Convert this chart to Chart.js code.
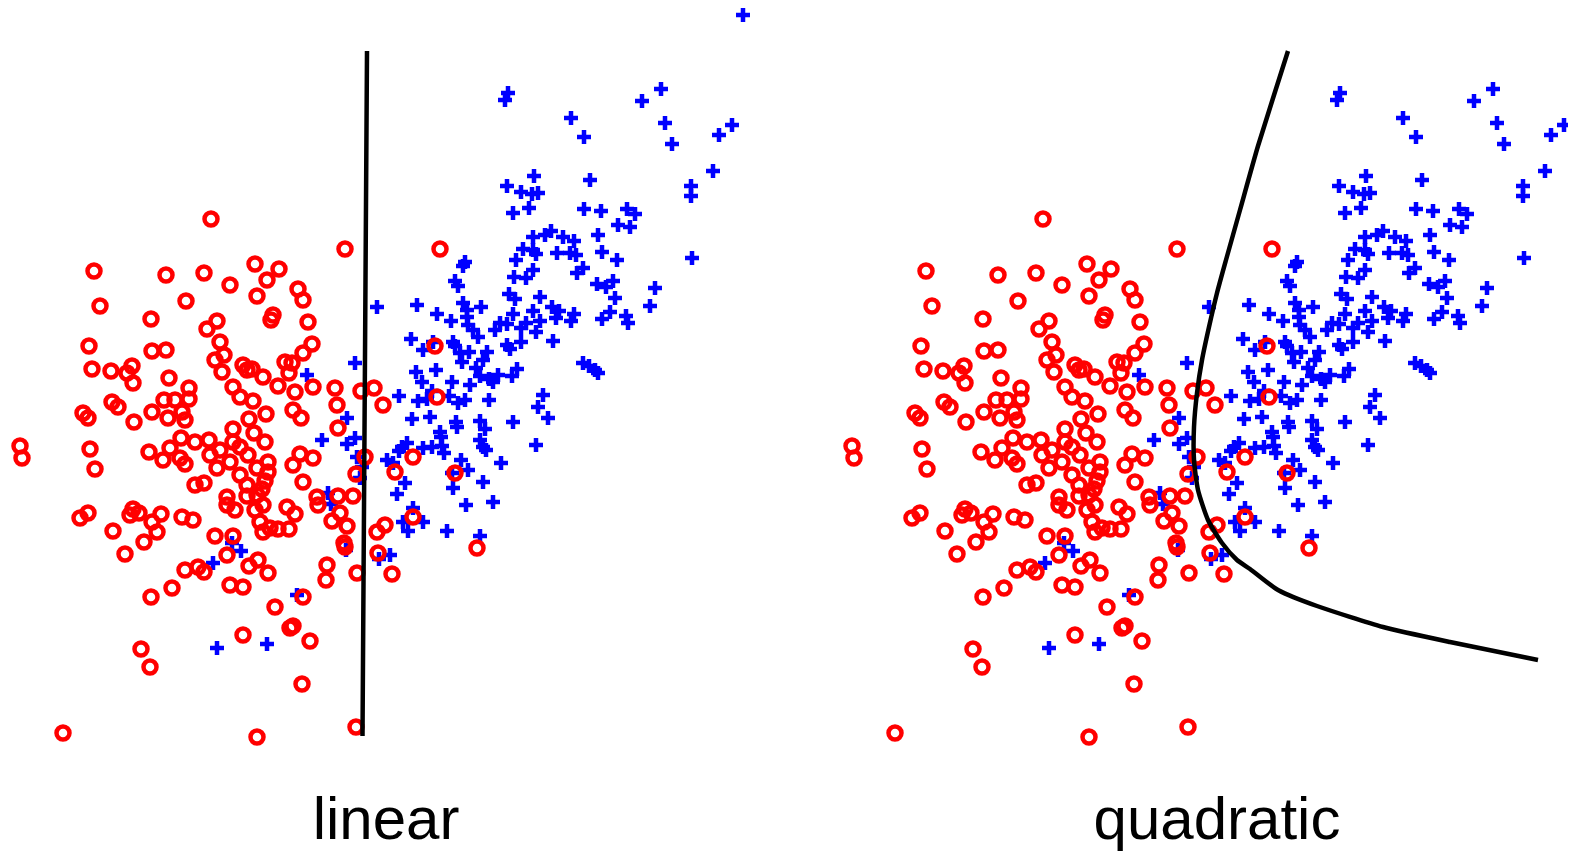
<!DOCTYPE html>
<html>
<head>
<meta charset="utf-8">
<script src="https://cdn.jsdelivr.net/npm/chart.js@4.4.1/dist/chart.umd.min.js"></script>
<style>
    html, body { margin: 0; padding: 0; background: #fff; overflow: hidden; }
    #wrap { position: relative; width: 1579px; height: 851px; }
    canvas { position: absolute; top: 0; }
    .label {
        position: absolute;
        top: 789px;
        font-family: "Liberation Sans", Arial, sans-serif;
        font-size: 60px;
        line-height: 60px;
        color: #000;
        white-space: nowrap;
        transform: translateX(-50%);
    }
</style>
</head>
<body>
<div id="wrap">
    <canvas id="linearChart" width="820" height="760" style="left:0px"></canvas>
    <canvas id="quadChart" width="736" height="760" style="left:832px"></canvas>
    <div class="label" id="label0" style="left:386px"></div>
    <div class="label" id="label1" style="left:1217px"></div>
</div>
<script>
const panelTitles = ['linear', 'quadratic'];

// class 0 (red circles), [x1, x2]
const redPoints = [
    [2.11,5.41],
    [0.94,4.89],[1.66,4.85],[2.04,4.87],[2.30,4.75],[1.00,4.54],[1.86,4.59],[1.51,4.41],[2.17,4.39],[2.07,4.31],
    [0.89,4.14],[1.52,4.09],[1.66,4.10],[2.20,4.18],[0.92,3.91],[1.11,3.89],[1.32,3.94],[1.27,3.87],[1.33,3.77],
    [1.69,3.82],[2.15,4.00],[2.24,4.05],[2.22,3.88],[2.43,3.95],[2.47,3.90],[2.33,3.73],[2.40,3.63],[1.89,3.72],
    [1.89,3.61],[1.64,3.60],[1.75,3.60],[1.12,3.58],[1.18,3.53],[0.83,3.47],[0.88,3.42],[1.34,3.38],[1.52,3.48],
    [1.68,3.42],[1.82,3.48],[1.85,3.40],[2.49,3.41],[2.33,3.31],[2.54,3.27],[0.20,3.14],[0.22,3.02],[0.90,3.11],
    [0.95,2.91],[1.49,3.08],[1.63,3.00],[1.70,3.12],[1.81,3.22],[1.95,3.18],[2.09,3.20],[1.80,3.02],[1.85,2.96],
    [2.10,3.05],[2.20,3.10],[2.17,2.92],[2.30,2.98],[2.33,3.18],[2.40,3.13],[2.48,3.05],[2.57,2.92],[1.95,2.75],
    [2.04,2.77],[2.40,2.85],[2.47,2.75],[2.68,2.88],[2.65,2.79],[2.62,2.71],
    [3.45,5.11],[4.40,5.11],[2.55,4.96],[2.79,4.91],[2.67,4.80],[2.57,4.64],[2.98,4.71],[3.03,4.60],[2.73,4.45],
    [2.71,4.40],[3.08,4.38],[3.12,4.16],[3.03,4.07],[2.85,3.98],[2.92,3.97],[2.89,3.87],[2.52,3.91],[2.63,3.83],
    [2.78,3.74],[2.95,3.68],[3.13,3.73],[3.35,3.72],[3.61,3.69],[3.74,3.72],[3.83,3.55],[3.37,3.55],[2.53,3.59],
    [2.66,3.46],[2.93,3.50],[3.01,3.42],[3.38,3.32],[2.65,3.18],[3.00,3.06],[3.13,3.02],[2.93,2.95],[2.68,2.98],
    [3.65,3.03],[3.56,2.86],[3.03,2.78],[4.35,4.14],[4.37,3.63],[4.13,3.03],[3.95,2.88],[4.55,2.87],
    [0.80,2.42],[0.88,2.47],[1.13,2.29],[1.30,2.45],[1.33,2.51],[1.39,2.47],[1.52,2.38],[1.61,2.46],[1.57,2.28],
    [1.44,2.18],[1.25,2.06],[1.82,2.43],[1.93,2.40],[2.27,2.63],[2.27,2.55],[2.35,2.50],[2.47,2.64],[2.15,2.24],
    [2.33,2.24],[2.27,2.05],[2.49,1.94],[1.85,1.90],[1.98,1.93],[2.04,1.88],[1.72,1.72],[1.51,1.63],[2.30,1.75],
    [2.43,1.73],[2.43,1.25],[1.41,1.11],[1.50,0.93],[0.63,0.27],[2.57,0.23],
    [2.57,2.65],[2.63,2.55],[2.55,2.50],[2.60,2.38],[2.63,2.28],[2.70,2.32],[2.78,2.31],[2.89,2.31],[2.87,2.53],
    [2.95,2.46],[3.17,2.63],[3.18,2.55],[3.38,2.64],[3.53,2.64],[3.40,2.47],[3.32,2.39],[3.47,2.34],[3.44,2.17],
    [3.45,2.13],[2.58,2.00],[2.68,1.87],[3.27,1.95],[3.26,1.80],[3.57,1.87],[3.03,1.63],[2.75,1.53],[2.90,1.32],
    [2.93,1.34],[3.10,1.19],[3.02,0.76],[3.56,0.33],[3.77,2.28],[3.85,2.35],[3.78,2.07],[3.92,1.86],[4.13,2.43],
    [4.77,2.12]
];

// class 1 (blue crosses), [x1, x2]
const bluePoints = [
    [7.43,7.45],
    [5.08,6.67],[5.05,6.60],[6.61,6.71],[6.42,6.59],[5.71,6.42],[5.84,6.23],[6.65,6.37],[6.72,6.16],[7.32,6.35],
    [7.19,6.25],[7.13,5.89],[6.91,5.74],[6.91,5.64],[5.34,5.84],[5.07,5.74],[5.21,5.68],[5.32,5.66],[5.38,5.67],
    [5.29,5.52],[5.13,5.47],[5.90,5.80],[5.84,5.51],[6.01,5.49],[6.27,5.51],[6.35,5.46],[6.18,5.35],[6.30,5.33],
    [5.98,5.25],[5.51,5.29],[5.45,5.25],[5.33,5.23],[5.63,5.23],[5.74,5.19],
    [5.23,5.11],[5.33,5.10],[5.36,5.06],[5.57,5.07],[5.70,5.07],[5.76,5.05],[6.02,5.08],[6.17,5.00],[6.92,5.02],
    [5.16,5.00],[5.33,4.90],[5.26,4.82],[5.14,4.83],[5.83,4.92],[5.77,4.87],[5.97,4.76],[6.06,4.73],[6.13,4.79],
    [6.55,4.72],[6.50,4.54],[6.15,4.62],[5.09,4.66],[5.15,4.61],[5.40,4.63],[5.52,4.53],[5.59,4.49],[5.56,4.42],
    [5.74,4.46],[5.71,4.39],[5.33,4.49],[5.13,4.46],[5.07,4.36],[5.26,4.37],[5.40,4.39],[5.21,4.32],[5.36,4.28],
    [5.53,4.19],[5.21,4.18],[6.02,4.41],[6.10,4.48],[6.26,4.44],[6.28,4.37],[5.07,4.15],[5.10,4.11],[5.83,3.97],
    [5.89,3.94],[5.98,3.87],[5.95,3.90],[5.17,3.91],[5.12,3.84],[5.43,3.65],[5.38,3.53],[5.48,3.42],[5.13,3.38],
    [5.36,3.15],
    [4.65,4.98],[4.63,4.94],[4.55,4.79],[4.58,4.74],[3.77,4.53],[4.17,4.55],[4.37,4.46],[4.51,4.39],[4.63,4.57],
    [4.67,4.50],[4.67,4.43],[4.81,4.53],[4.68,4.35],[4.73,4.30],[4.78,4.23],[4.95,4.30],[5.00,4.37],[4.11,4.21],
    [4.23,4.10],[4.33,4.18],[4.53,4.18],[4.55,4.14],[4.60,4.07],[4.69,4.08],[4.87,4.08],[4.83,4.00],[4.62,3.98],
    [3.55,3.97],[3.07,3.85],[4.16,3.88],[4.36,3.90],[4.76,3.92],[4.80,3.84],[4.89,3.81],[4.98,3.85],[4.93,3.78],
    [4.22,3.78],[4.52,3.78],[4.70,3.75],[3.99,3.64],[4.32,3.69],[4.49,3.64],[4.18,3.59],[4.27,3.61],[4.58,3.57],
    [4.65,3.60],[4.89,3.60],[4.30,3.43],[4.12,3.41],[4.56,3.38],[4.57,3.33],[4.80,3.39],[4.85,3.31],[4.40,3.28],
    [4.41,3.23],[3.47,3.42],[3.22,3.20],[3.47,3.16],[3.55,3.22],[4.07,3.17],[4.02,3.13],[3.99,3.09],[4.23,3.12],
    [4.32,3.13],[4.42,3.14],[4.44,3.07],[4.80,3.20],[4.83,3.13],[4.86,3.10],[3.87,3.00],[3.93,2.97],[4.61,3.00],
    [4.68,2.90],[5.01,2.97],[3.57,3.03],[3.62,2.93],[3.60,2.82],[4.52,2.87],[4.05,2.77],[4.83,2.78],[3.97,2.66],
    [4.53,2.72],[3.28,2.67],
    [2.32,2.17],[2.41,2.09],[2.13,1.97],[2.17,1.12],
    [3.31,2.56],[3.46,2.10],[2.97,1.65],[2.67,1.16],[4.13,2.52],[4.03,2.38],[4.08,2.29],[4.23,2.38],[4.47,2.29],
    [4.66,2.55],[4.93,2.58],[4.80,2.24],[3.90,2.05],[3.79,2.01]
];

// decision boundaries
const linearBoundary = [[3.67,7.09],[3.625,0.24]];
const quadraticBoundary = [
    [4.56,7.09],[4.26,6.14],[4.08,5.50],[3.94,5.00],[3.85,4.67],[3.77,4.33],[3.70,4.00],[3.65,3.67],
    [3.62,3.33],[3.62,3.00],[3.66,2.70],[3.76,2.40],[3.90,2.17],[4.05,2.00],[4.18,1.91],[4.46,1.70],
    [4.85,1.54],[5.51,1.33],[6.18,1.18],[7.06,1.00]
];

const toXY = arr => arr.map(p => ({ x: p[0], y: p[1] }));

function drawPanel(canvasId, xMax, boundary) {
    const ctx = document.getElementById(canvasId).getContext('2d');
    new Chart(ctx, {
        type: 'scatter',
        data: {
            datasets: [
                {
                    label: 'boundary',
                    data: toXY(boundary),
                    showLine: true,
                    borderColor: '#000000',
                    borderWidth: 4.5,
                    pointRadius: 0,
                    tension: 0.2,
                    borderJoinStyle: 'round',
                    fill: false,
                    clip: 0
                },
                {
                    label: 'class 0',
                    data: toXY(redPoints),
                    pointStyle: 'circle',
                    pointRadius: 6.5,
                    pointBorderWidth: 4.5,
                    pointBorderColor: '#ff0000',
                    pointBackgroundColor: 'rgba(0,0,0,0)',
                    borderColor: '#ff0000',
                    clip: 0
                },
                {
                    label: 'class 1',
                    data: toXY(bluePoints),
                    pointStyle: 'cross',
                    pointRadius: 7,
                    pointBorderWidth: 4.5,
                    pointBorderColor: '#0000ff',
                    pointBackgroundColor: '#0000ff',
                    borderColor: '#0000ff',
                    clip: 0
                }
            ]
        },
        options: {
            responsive: false,
            animation: false,
            events: [],
            layout: { padding: 0, autoPadding: false },
            plugins: {
                legend: { display: false },
                tooltip: { enabled: false }
            },
            scales: {
                x: { type: 'linear', min: 0, max: xMax, display: false },
                y: { type: 'linear', min: 0, max: 7.6, display: false }
            }
        }
    });
}

drawPanel('linearChart', 8.2, linearBoundary);
drawPanel('quadChart', 7.36, quadraticBoundary);

document.getElementById('label0').textContent = panelTitles[0];
document.getElementById('label1').textContent = panelTitles[1];
</script>
</body>
</html>
